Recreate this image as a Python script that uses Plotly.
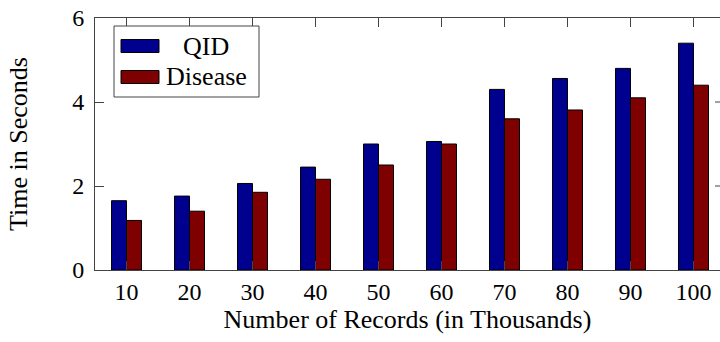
import plotly.graph_objects as go

records = [10, 20, 30, 40, 50, 60, 70, 80, 90, 100]
qid = [1.65, 1.76, 2.06, 2.45, 3.0, 3.06, 4.30, 4.56, 4.80, 5.40]
disease = [1.18, 1.40, 1.85, 2.16, 2.50, 3.00, 3.60, 3.81, 4.10, 4.40]
y_ticks = [0, 2, 4, 6]
series_names = ["QID", "Disease"]

BLUE = "#00008f"
RED = "#7f0000"
FONT = "'Times New Roman', 'Liberation Serif', serif"
AX = "#444444"

W, H = 720, 342
ML, MR, MT, MB = 95, 0, 18, 72
PW = W - ML - MR
PH = H - MT - MB

def px(x):
    return (x - ML) / PW

def py(y):
    return (H - MB - y) / PH

fig = go.Figure()
fig.add_trace(go.Bar(x=records, y=qid, name=series_names[0], marker=dict(color=BLUE, line=dict(color="black", width=1)), showlegend=False))
fig.add_trace(go.Bar(x=records, y=disease, name=series_names[1], marker=dict(color=RED, line=dict(color="black", width=1)), showlegend=False))

shapes = []
# right-side inner ticks (right border is just outside the picture)
for t in y_ticks[1:-1]:
    shapes.append(dict(type="line", xref="paper", yref="y", x0=1 - 5 / PW, x1=1, y0=t, y1=t,
                       line=dict(color=AX, width=1)))
# custom legend
shapes.append(dict(type="rect", xref="paper", yref="paper", x0=px(114), x1=px(259), y0=py(97), y1=py(26),
                   line=dict(color=AX, width=1), fillcolor="white", layer="above"))
annotations = []
for i, (name, col) in enumerate(zip(series_names, [BLUE, RED])):
    yc = 46 + i * 31
    shapes.append(dict(type="rect", xref="paper", yref="paper", x0=px(121), x1=px(159),
                       y0=py(yc + 6.5), y1=py(yc - 6.5), line=dict(color="black", width=1),
                       fillcolor=col, layer="above"))
    annotations.append(dict(text=name, xref="paper", yref="paper", x=px(206), y=py(yc),
                            xanchor="center", yanchor="middle", showarrow=False,
                            font=dict(family=FONT, size=26, color="black")))

fig.update_layout(
    width=W, height=H,
    margin=dict(l=ML, r=MR, t=MT, b=MB, pad=0),
    paper_bgcolor="white", plot_bgcolor="white",
    barmode="group", bargap=0.524, bargroupgap=0,
    font=dict(family=FONT, size=24, color="black"),
    shapes=shapes, annotations=annotations,
    xaxis=dict(range=[5, 104.21], tickvals=records, ticktext=[str(r) for r in records],
               ticks="inside", ticklen=9, tickcolor=AX, showline=True, linecolor=AX, linewidth=1,
               mirror="ticks", showgrid=False, zeroline=False,
               title=dict(text="Number of Records (in Thousands)", standoff=5, font=dict(size=26))),
    yaxis=dict(range=[0, 6], tickvals=y_ticks, ticks="inside", ticklen=9, tickcolor=AX,
               showline=True, linecolor=AX, linewidth=1, showgrid=False, zeroline=False,
               ticklabelstandoff=5,
               title=dict(text="Time in Seconds", standoff=37, font=dict(size=26))),
)

fig.write_html("out.html")
